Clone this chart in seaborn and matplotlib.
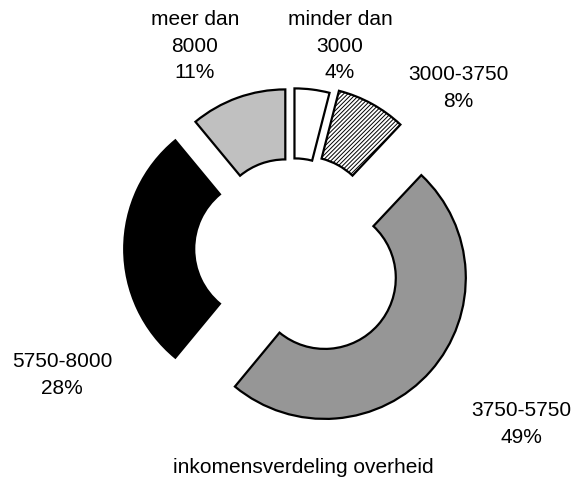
"""Exploded donut chart: inkomensverdeling overheid."""

import matplotlib
matplotlib.use("Agg")
import matplotlib.pyplot as plt
import seaborn as sns

# data (clockwise from the top)
CATEGORIES = ["minder dan\n3000", "3000-3750", "3750-5750", "5750-8000", "meer dan\n8000"]
SHARES = [4, 8, 49, 28, 11]
COLORS = ["#ffffff", "#ffffff", "#969696", "#000000", "#c0c0c0"]
HATCHES = [None, "////////", None, None, None]
EXPLODE = [0.14, 0.175, 0.31, 0.19, 0.14]  # fraction of radius
TITLE = "inkomensverdeling overheid"

# layout in pixels (image coords, y down)
W, H = 578, 481
CENTER = (292, 250)
RADIUS = 141
RING = 70
LABEL_POS = [(340, 46), (458, 88), (521, 424), (62, 375), (195, 46)]
TITLE_POS = (303, 468)

sns.set_style("white")
plt.rcParams["font.family"] = ["Liberation Sans", "DejaVu Sans"]
plt.rcParams["hatch.linewidth"] = 0.7


def main():
    fig = plt.figure(figsize=(W / 100, H / 100), dpi=100)
    ax = fig.add_axes([0, 0, 1, 1])

    # pie explode is in data units, so scale by the radius
    wedges, _ = ax.pie(SHARES, colors=COLORS, explode=[e * RADIUS for e in EXPLODE],
                       startangle=90, counterclock=False, radius=RADIUS,
                       center=(CENTER[0], H - CENTER[1]), frame=True,
                       wedgeprops=dict(width=RING, edgecolor="black", linewidth=1.6))
    for w, h in zip(wedges, HATCHES):
        if h:
            w.set_hatch(h)
    ax.set_xlim(0, W)
    ax.set_ylim(0, H)
    ax.set_aspect("equal")
    ax.axis("off")

    for cat, val, (x, y) in zip(CATEGORIES, SHARES, LABEL_POS):
        ax.text(x, H - y, f"{cat}\n{val}%", ha="center", va="center",
                fontsize=15, linespacing=1.52, color="black")
    ax.text(TITLE_POS[0], H - TITLE_POS[1], TITLE, ha="center", va="center",
            fontsize=15, color="black")

    fig.savefig("out.png", dpi=100, facecolor="white")
    plt.close(fig)


if __name__ == "__main__":
    main()
